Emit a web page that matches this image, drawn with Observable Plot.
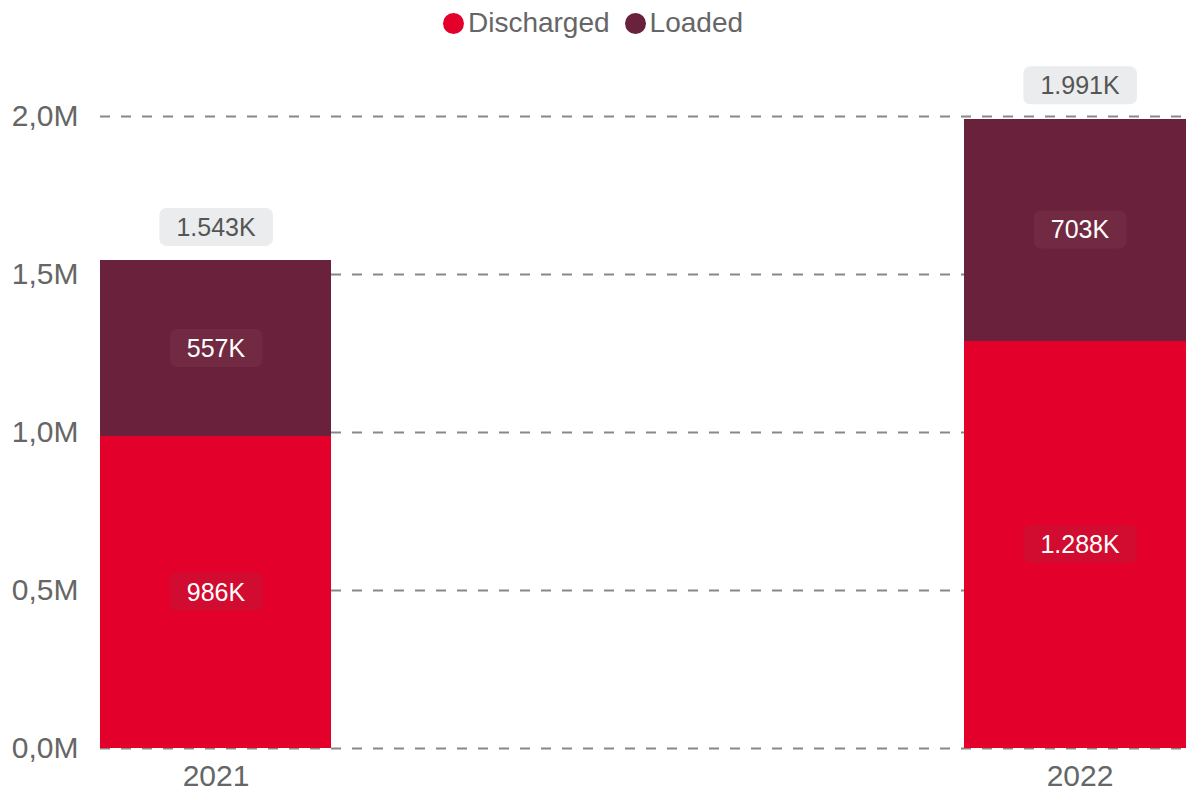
<!DOCTYPE html>
<html>
<head>
<meta charset="utf-8">
<script src="https://cdn.jsdelivr.net/npm/d3@7"></script>
<script src="https://cdn.jsdelivr.net/npm/@observablehq/plot@0.6"></script>
<style>
  html, body { margin: 0; padding: 0; background: #fff; }
  body { width: 1186px; height: 792px; overflow: hidden; font-family: "Liberation Sans", Arial, sans-serif; }
  #legend { height: 46px; display: flex; justify-content: center; align-items: center; color: #666; font-size: 28px; }
  #legend .item { display: flex; align-items: center; }
  #legend .dot { width: 21px; height: 21px; border-radius: 50%; margin-right: 4px; }
  #legend .item + .item { margin-left: 15px; }
</style>
</head>
<body>
<div id="legend"></div>
<div id="chart"></div>
<script>
const years = ["2021", "2022"];
const series = ["Discharged", "Loaded"];
const colors = ["#E3002B", "#6A213B"];
const discharged = [986, 1288];   // thousands
const loaded = [557, 703];        // thousands
const yTicks = [0, 500, 1000, 1500, 2000];

const data = [];
years.forEach((y, i) => {
  data.push({year: y, series: "Discharged", value: discharged[i]});
  data.push({year: y, series: "Loaded", value: loaded[i]});
});
const totals = years.map((y, i) => ({year: y, total: discharged[i] + loaded[i]}));

const fmtK = t => t >= 1000 ? Math.floor(t / 1000) + "." + String(t % 1000).padStart(3, "0") + "K" : t + "K";
const fmtAxis = d => (d / 1000).toFixed(1).replace(".", ",") + "M";

// legend
const legend = document.getElementById("legend");
series.forEach((s, i) => {
  const it = document.createElement("div");
  it.className = "item";
  it.innerHTML = `<span class="dot" style="background:${colors[i]}"></span><span>${s}</span>`;
  legend.appendChild(it);
});

const chart = Plot.plot({
  width: 1186,
  height: 746,
  marginTop: 70,
  marginBottom: 44,
  marginLeft: 100,
  marginRight: 0,
  style: {fontFamily: '"Liberation Sans", Arial, sans-serif', background: "#fff"},
  x: {domain: years, range: [100, 1195], paddingInner: 0.733, paddingOuter: 0},
  y: {domain: [0, 2000]},
  color: {domain: series, range: colors},
  marks: [
    Plot.ruleY(yTicks, {stroke: "#888", strokeWidth: 2, strokeDasharray: "10,11"}),
    Plot.barY(data, {x: "year", y: "value", fill: "series", shapeRendering: "crispEdges"}),
    Plot.text(data, Plot.stackY({x: "year", y: "value", text: d => fmtK(d.value), fill: "white", fontSize: 25})),
    Plot.text(totals, {x: "year", y: "total", text: d => fmtK(d.total), dy: -33, fill: "#555", fontSize: 25}),
    Plot.axisY({ticks: yTicks, tickFormat: fmtAxis, tickSize: 0, tickPadding: 22, fontSize: 30, color: "#666", label: null}),
    Plot.axisX({tickSize: 0, tickPadding: 16, fontSize: 30, color: "#666", label: null})
  ]
});
document.getElementById("chart").appendChild(chart);

// rounded label backgrounds derived from rendered text positions
const groups = chart.querySelectorAll('g[aria-label="text"]');
groups.forEach((g, gi) => {
  const texts = Array.from(g.querySelectorAll("text"));
  texts.forEach((t, ti) => {
    const bb = t.getBBox();
    const r = document.createElementNS("http://www.w3.org/2000/svg", "rect");
    r.setAttribute("x", bb.x - 17);
    r.setAttribute("y", bb.y + bb.height / 2 - 19);
    r.setAttribute("width", bb.width + 34);
    r.setAttribute("height", 38);
    r.setAttribute("rx", 7);
    let fill = "#EBECEE";
    if (gi === 0) fill = (data[ti] && data[ti].series === "Discharged") ? "#D20B30" : "#722A42";
    r.setAttribute("fill", fill);
    r.setAttribute("stroke", "none");
    if (t.getAttribute("transform")) r.setAttribute("transform", t.getAttribute("transform"));
    g.insertBefore(r, t);
  });
});
</script>
</body>
</html>
